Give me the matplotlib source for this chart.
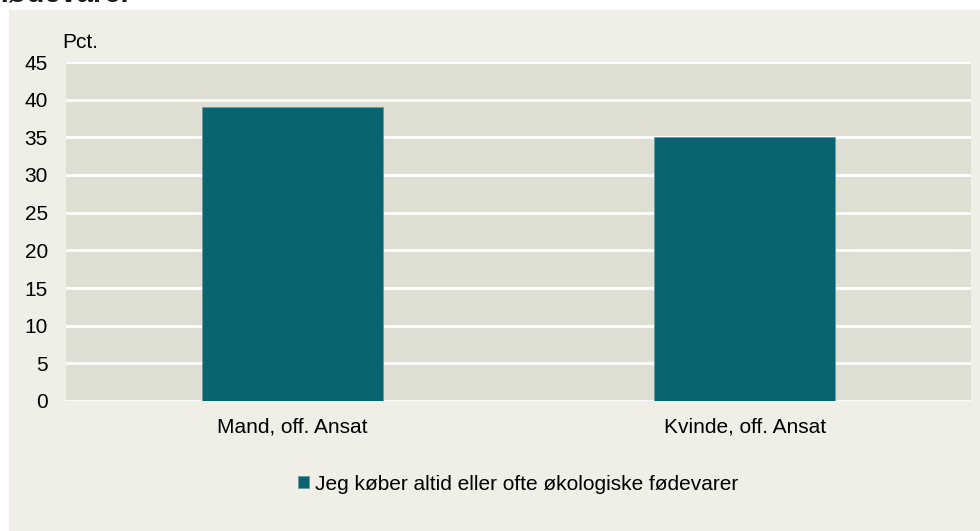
import matplotlib.pyplot as plt
from matplotlib.patches import Rectangle

categories = ['Mand, off. Ansat', 'Kvinde, off. Ansat']
values = [39, 35]
series_name = 'Jeg køber altid eller ofte økologiske fødevarer'
yticks = [0, 5, 10, 15, 20, 25, 30, 35, 40, 45]

plt.rcParams['font.family'] = ['Liberation Sans', 'DejaVu Sans']
fs = 15

W, H = 980, 531
fig = plt.figure(figsize=(W / 100, H / 100), dpi=100)
fig.patch.set_facecolor('white')

# light panel behind the chart
fig.patches.append(Rectangle((9 / W, 0), 1 - 9 / W, 1 - 10 / H,
                             transform=fig.transFigure, facecolor='#EFEEE7',
                             edgecolor='none', zorder=-5))

# clipped title at the very top
fig.text(0 / W, 1 - 2 / H, 'fødevarer', fontsize=21, fontweight='bold',
         ha='left', va='baseline', color='#1a1a1a')

ax = fig.add_axes([66 / W, 1 - 401 / H, (971 - 66) / W, (401 - 62) / H])
ax.set_facecolor('#DFDED3')

x = range(len(categories))
ax.bar(x, values, width=0.4, color='#0A6370', edgecolor='#6E9A9C',
       linewidth=0.6, zorder=3, label=series_name)

ax.set_xlim(-0.5, 1.5)
ax.set_ylim(0, 45)
ax.set_yticks(yticks)
ax.set_yticklabels([str(t) for t in yticks], fontsize=fs)
ax.set_xticks(list(x))
ax.set_xticklabels(categories, fontsize=fs)
ax.tick_params(axis='y', length=0, pad=13)
ax.tick_params(axis='x', length=0, pad=12)
ax.grid(axis='y', color='white', linewidth=2, zorder=1)
ax.set_axisbelow(True)
for s in ax.spines.values():
    s.set_visible(False)

fig.text(62 / W, 1 - 43 / H, 'Pct.', fontsize=fs, ha='left', va='center')

fig.legend(loc='center', bbox_to_anchor=(518 / W, 1 - 484 / H), frameon=False,
           fontsize=fs, handlelength=0.55, handleheight=0.55, handletextpad=0.3)

fig.savefig('out.png', dpi=100, facecolor=fig.get_facecolor())
